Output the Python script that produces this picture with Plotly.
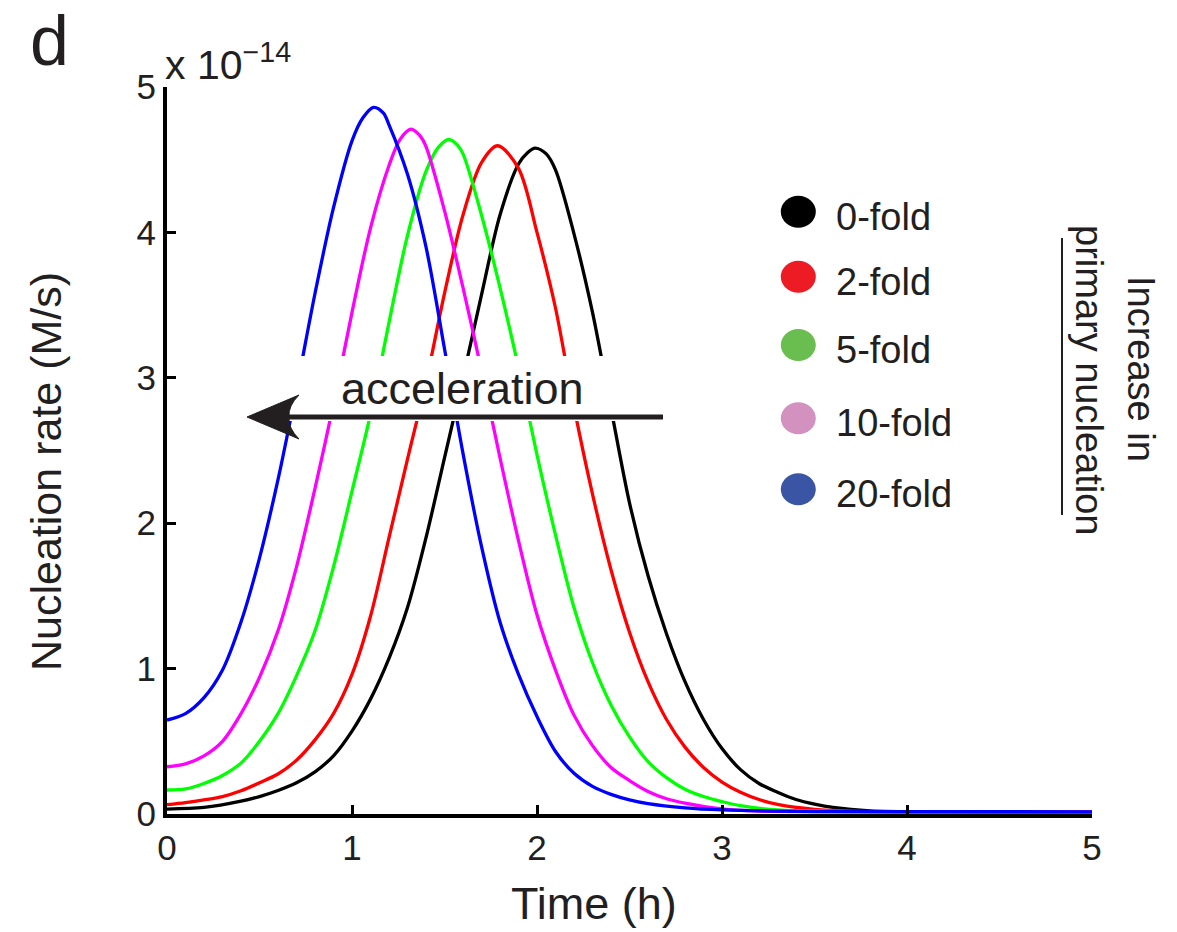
import plotly.graph_objects as go

# ---------------- data (values in units of 1e-14 M/s) ----------------
labels = ["0-fold", "2-fold", "5-fold", "10-fold", "20-fold"]
line_colors = ["#000000", "#FF0000", "#00FF00", "#FF00FF", "#0000FF"]
legend_colors = ["#000000", "#ED1C24", "#6ABD4F", "#D291BE", "#3A55A4"]

t_black = [0.0, 0.2, 0.4, 0.5, 0.6, 0.7, 0.8, 0.9, 1.0, 1.1, 1.2, 1.3, 1.4, 1.5, 1.6, 1.7, 1.8,
           1.9, 1.95, 1.99, 2.05, 2.1, 2.2, 2.3, 2.4, 2.5, 2.6, 2.7, 2.8, 2.9, 3.0, 3.1, 3.2, 3.3,
           3.4, 3.5, 3.6, 3.8, 4.2, 5.0]
v_black = [0.034, 0.045, 0.088, 0.120, 0.162, 0.215, 0.290, 0.400, 0.570, 0.790, 1.070, 1.420,
           1.900, 2.450, 3.000, 3.570, 4.120, 4.470, 4.550, 4.580, 4.540, 4.430, 3.990, 3.450,
           2.790, 2.140, 1.640, 1.240, 0.910, 0.650, 0.450, 0.305, 0.210, 0.150, 0.100, 0.068,
           0.045, 0.022, 0.016, 0.015]

t_red = [0.0, 0.1, 0.2, 0.3, 0.4, 0.5, 0.6, 0.7, 0.8, 0.9, 1.0, 1.1, 1.2, 1.3, 1.4, 1.5, 1.6, 1.7,
         1.787, 1.9, 2.0, 2.1, 2.2, 2.3, 2.4, 2.5, 2.6, 2.7, 2.8, 2.9, 3.0, 3.1, 3.2,
         3.3, 3.5, 3.7, 4.0, 5.0]
v_red = [0.064, 0.078, 0.097, 0.120, 0.160, 0.215, 0.275, 0.370, 0.510, 0.690, 0.960, 1.360,
         1.900, 2.440, 2.970, 3.580, 4.120, 4.480, 4.596, 4.440, 4.000, 3.480,
         2.800, 2.200, 1.680, 1.250, 0.910, 0.650, 0.460, 0.320, 0.220, 0.150, 0.100, 0.066,
         0.032, 0.020, 0.016, 0.015]

t_green = [0.0, 0.1, 0.2, 0.3, 0.4, 0.5, 0.6, 0.7, 0.8, 0.9, 1.0, 1.1, 1.2, 1.3, 1.4, 1.47, 1.524,
           1.57, 1.6, 1.7, 1.8, 1.9, 2.0, 2.1, 2.2, 2.3, 2.4, 2.5, 2.6, 2.7, 2.8, 2.9, 3.0, 3.1,
           3.3, 3.6, 5.0]
v_green = [0.165, 0.172, 0.210, 0.265, 0.350, 0.500, 0.690, 0.950, 1.260, 1.700, 2.220, 2.750,
           3.380, 3.980, 4.420, 4.590, 4.640, 4.600, 4.540, 4.120, 3.620, 3.070, 2.470, 1.920,
           1.420, 1.040, 0.750, 0.530, 0.360, 0.250, 0.170, 0.120, 0.085, 0.057, 0.028, 0.018,
           0.015]

t_magenta = [0.0, 0.1, 0.2, 0.3, 0.4, 0.5, 0.6, 0.7, 0.8, 0.9, 1.0, 1.1, 1.2, 1.26, 1.319, 1.37,
             1.4, 1.5, 1.6, 1.7, 1.8, 1.9, 2.0, 2.1, 2.2, 2.3, 2.4, 2.5, 2.6, 2.7, 2.8, 3.0, 3.2,
             3.5, 5.0]
v_magenta = [0.325, 0.345, 0.400, 0.500, 0.690, 0.940, 1.260, 1.700, 2.240, 2.820, 3.450, 4.030,
             4.460, 4.640, 4.710, 4.660, 4.590, 4.150, 3.620, 3.050, 2.450, 1.880, 1.370, 0.990,
             0.680, 0.470, 0.320, 0.230, 0.155, 0.105, 0.075, 0.035, 0.020, 0.016, 0.015]

t_blue = [0.0, 0.1, 0.2, 0.3, 0.4, 0.5, 0.6, 0.7, 0.8, 0.9, 1.0, 1.06, 1.117, 1.17, 1.2, 1.3, 1.4,
          1.5, 1.6, 1.7, 1.8, 1.9, 2.0, 2.1, 2.2, 2.3, 2.4, 2.5, 2.6, 2.8, 3.0, 3.5, 5.0]
v_blue = [0.646, 0.690, 0.800, 0.990, 1.320, 1.760, 2.300, 2.920, 3.580, 4.170, 4.630, 4.790,
          4.860, 4.820, 4.740, 4.400, 3.900, 3.200, 2.480, 1.840, 1.320, 0.960, 0.670, 0.430,
          0.280, 0.190, 0.135, 0.097, 0.071, 0.042, 0.028, 0.017, 0.015]

series_t = [t_black, t_red, t_green, t_magenta, t_blue]
series_v = [v_black, v_red, v_green, v_magenta, v_blue]

x_ticks = [0, 1, 2, 3, 4, 5]
y_ticks = [0, 1, 2, 3, 4, 5]

# ---------------- layout geometry ----------------
W, H = 1177, 932
ML, MR, MT, MB = 167, 85, 87, 118
PW, PH = W - ML - MR, H - MT - MB


def px(X):
    return (X - ML) / PW


def py(Y):
    return (H - MB - Y) / PH


FONT = "Liberation Sans, Arial, Helvetica, sans-serif"
TXT = "#231F20"

fig = go.Figure()
for t, v, c, name in zip(series_t, series_v, line_colors, labels):
    fig.add_trace(go.Scatter(x=t, y=v, mode="lines", name=name,
                             line=dict(color=c, width=3.3, shape="spline", smoothing=0.9),
                             showlegend=False, hoverinfo="skip"))

shapes = []
annotations = []

# white box behind "acceleration"
shapes.append(dict(type="rect", xref="paper", yref="paper",
                   x0=px(245), x1=px(665), y0=py(421), y1=py(356),
                   fillcolor="white", line=dict(width=0), layer="above"))

# arrow: shaft + dart-shaped head
shapes.append(dict(type="line", xref="paper", yref="paper",
                   x0=px(286), x1=px(663), y0=py(417), y1=py(417),
                   line=dict(color=TXT, width=5), layer="above"))
head = "M {:.5f},{:.5f} L {:.5f},{:.5f} Q {:.5f},{:.5f} {:.5f},{:.5f} Q {:.5f},{:.5f} {:.5f},{:.5f} Z".format(
    px(247), py(417), px(299), py(395), px(288), py(406), px(289), py(417),
    px(288), py(428), px(299), py(439))
shapes.append(dict(type="path", xref="paper", yref="paper", path=head,
                   fillcolor=TXT, line=dict(color=TXT, width=1), layer="above"))

annotations.append(dict(x=px(462), y=py(388), xref="paper", yref="paper", text="acceleration",
                        showarrow=False, xanchor="center", yanchor="middle",
                        font=dict(family=FONT, size=45, color=TXT)))

# custom legend
leg_y = [211.7, 276.7, 345.0, 418.3, 489.3]
for lab, col, Y in zip(labels, legend_colors, leg_y):
    shapes.append(dict(type="circle", xref="paper", yref="paper",
                       x0=px(798.3 - 17.5), x1=px(798.3 + 17.5),
                       y0=py(Y + 16), y1=py(Y - 16),
                       fillcolor=col, line=dict(width=0), layer="above"))
    annotations.append(dict(x=px(834), y=py(Y + 5), xref="paper", yref="paper", text=lab,
                            showarrow=False, xanchor="left", yanchor="middle",
                            font=dict(family=FONT, size=38, color=TXT)))

# side label
shapes.append(dict(type="line", xref="paper", yref="paper",
                   x0=px(1062), x1=px(1062), y0=py(515), y1=py(238),
                   line=dict(color=TXT, width=2)))
annotations.append(dict(x=px(1141), y=py(369), xref="paper", yref="paper", text="Increase in",
                        showarrow=False, textangle=90, xanchor="center", yanchor="middle",
                        font=dict(family=FONT, size=38, color=TXT)))
annotations.append(dict(x=px(1089), y=py(380), xref="paper", yref="paper", text="primary nucleation",
                        showarrow=False, textangle=90, xanchor="center", yanchor="middle",
                        font=dict(family=FONT, size=38, color=TXT)))

# exponent label, panel letter, axis titles
annotations.append(dict(x=px(163), y=py(90), xref="paper", yref="paper",
                        text="x 10<sup>\u221214</sup>", showarrow=False,
                        xanchor="left", yanchor="bottom",
                        font=dict(family=FONT, size=41, color=TXT)))
annotations.append(dict(x=px(50), y=py(41), xref="paper", yref="paper", text="d",
                        showarrow=False, xanchor="center", yanchor="middle",
                        font=dict(family=FONT, size=70, color=TXT)))
annotations.append(dict(x=px(594), y=py(903), xref="paper", yref="paper", text="Time (h)",
                        showarrow=False, xanchor="center", yanchor="middle",
                        font=dict(family=FONT, size=45, color=TXT)))
annotations.append(dict(x=px(46), y=py(472), xref="paper", yref="paper", text="Nucleation rate (M/s)",
                        showarrow=False, textangle=-90, xanchor="center", yanchor="middle",
                        font=dict(family=FONT, size=43, color=TXT)))

axis_common = dict(showgrid=False, zeroline=False, showline=True, linecolor="black", linewidth=4,
                   ticks="inside", ticklen=9, tickwidth=3, tickcolor="black",
                   tickfont=dict(family=FONT, size=35, color=TXT), mirror=False)

fig.update_layout(
    width=W, height=H,
    margin=dict(l=ML, r=MR, t=MT, b=MB, pad=0),
    paper_bgcolor="white", plot_bgcolor="white",
    xaxis=dict(range=[0, 5], tickvals=x_ticks, ticktext=[str(v) for v in x_ticks], **axis_common),
    yaxis=dict(range=[0, 5], tickvals=y_ticks, ticktext=[str(v) for v in y_ticks], **axis_common),
    shapes=shapes, annotations=annotations,
)

fig.write_html("out.html")
